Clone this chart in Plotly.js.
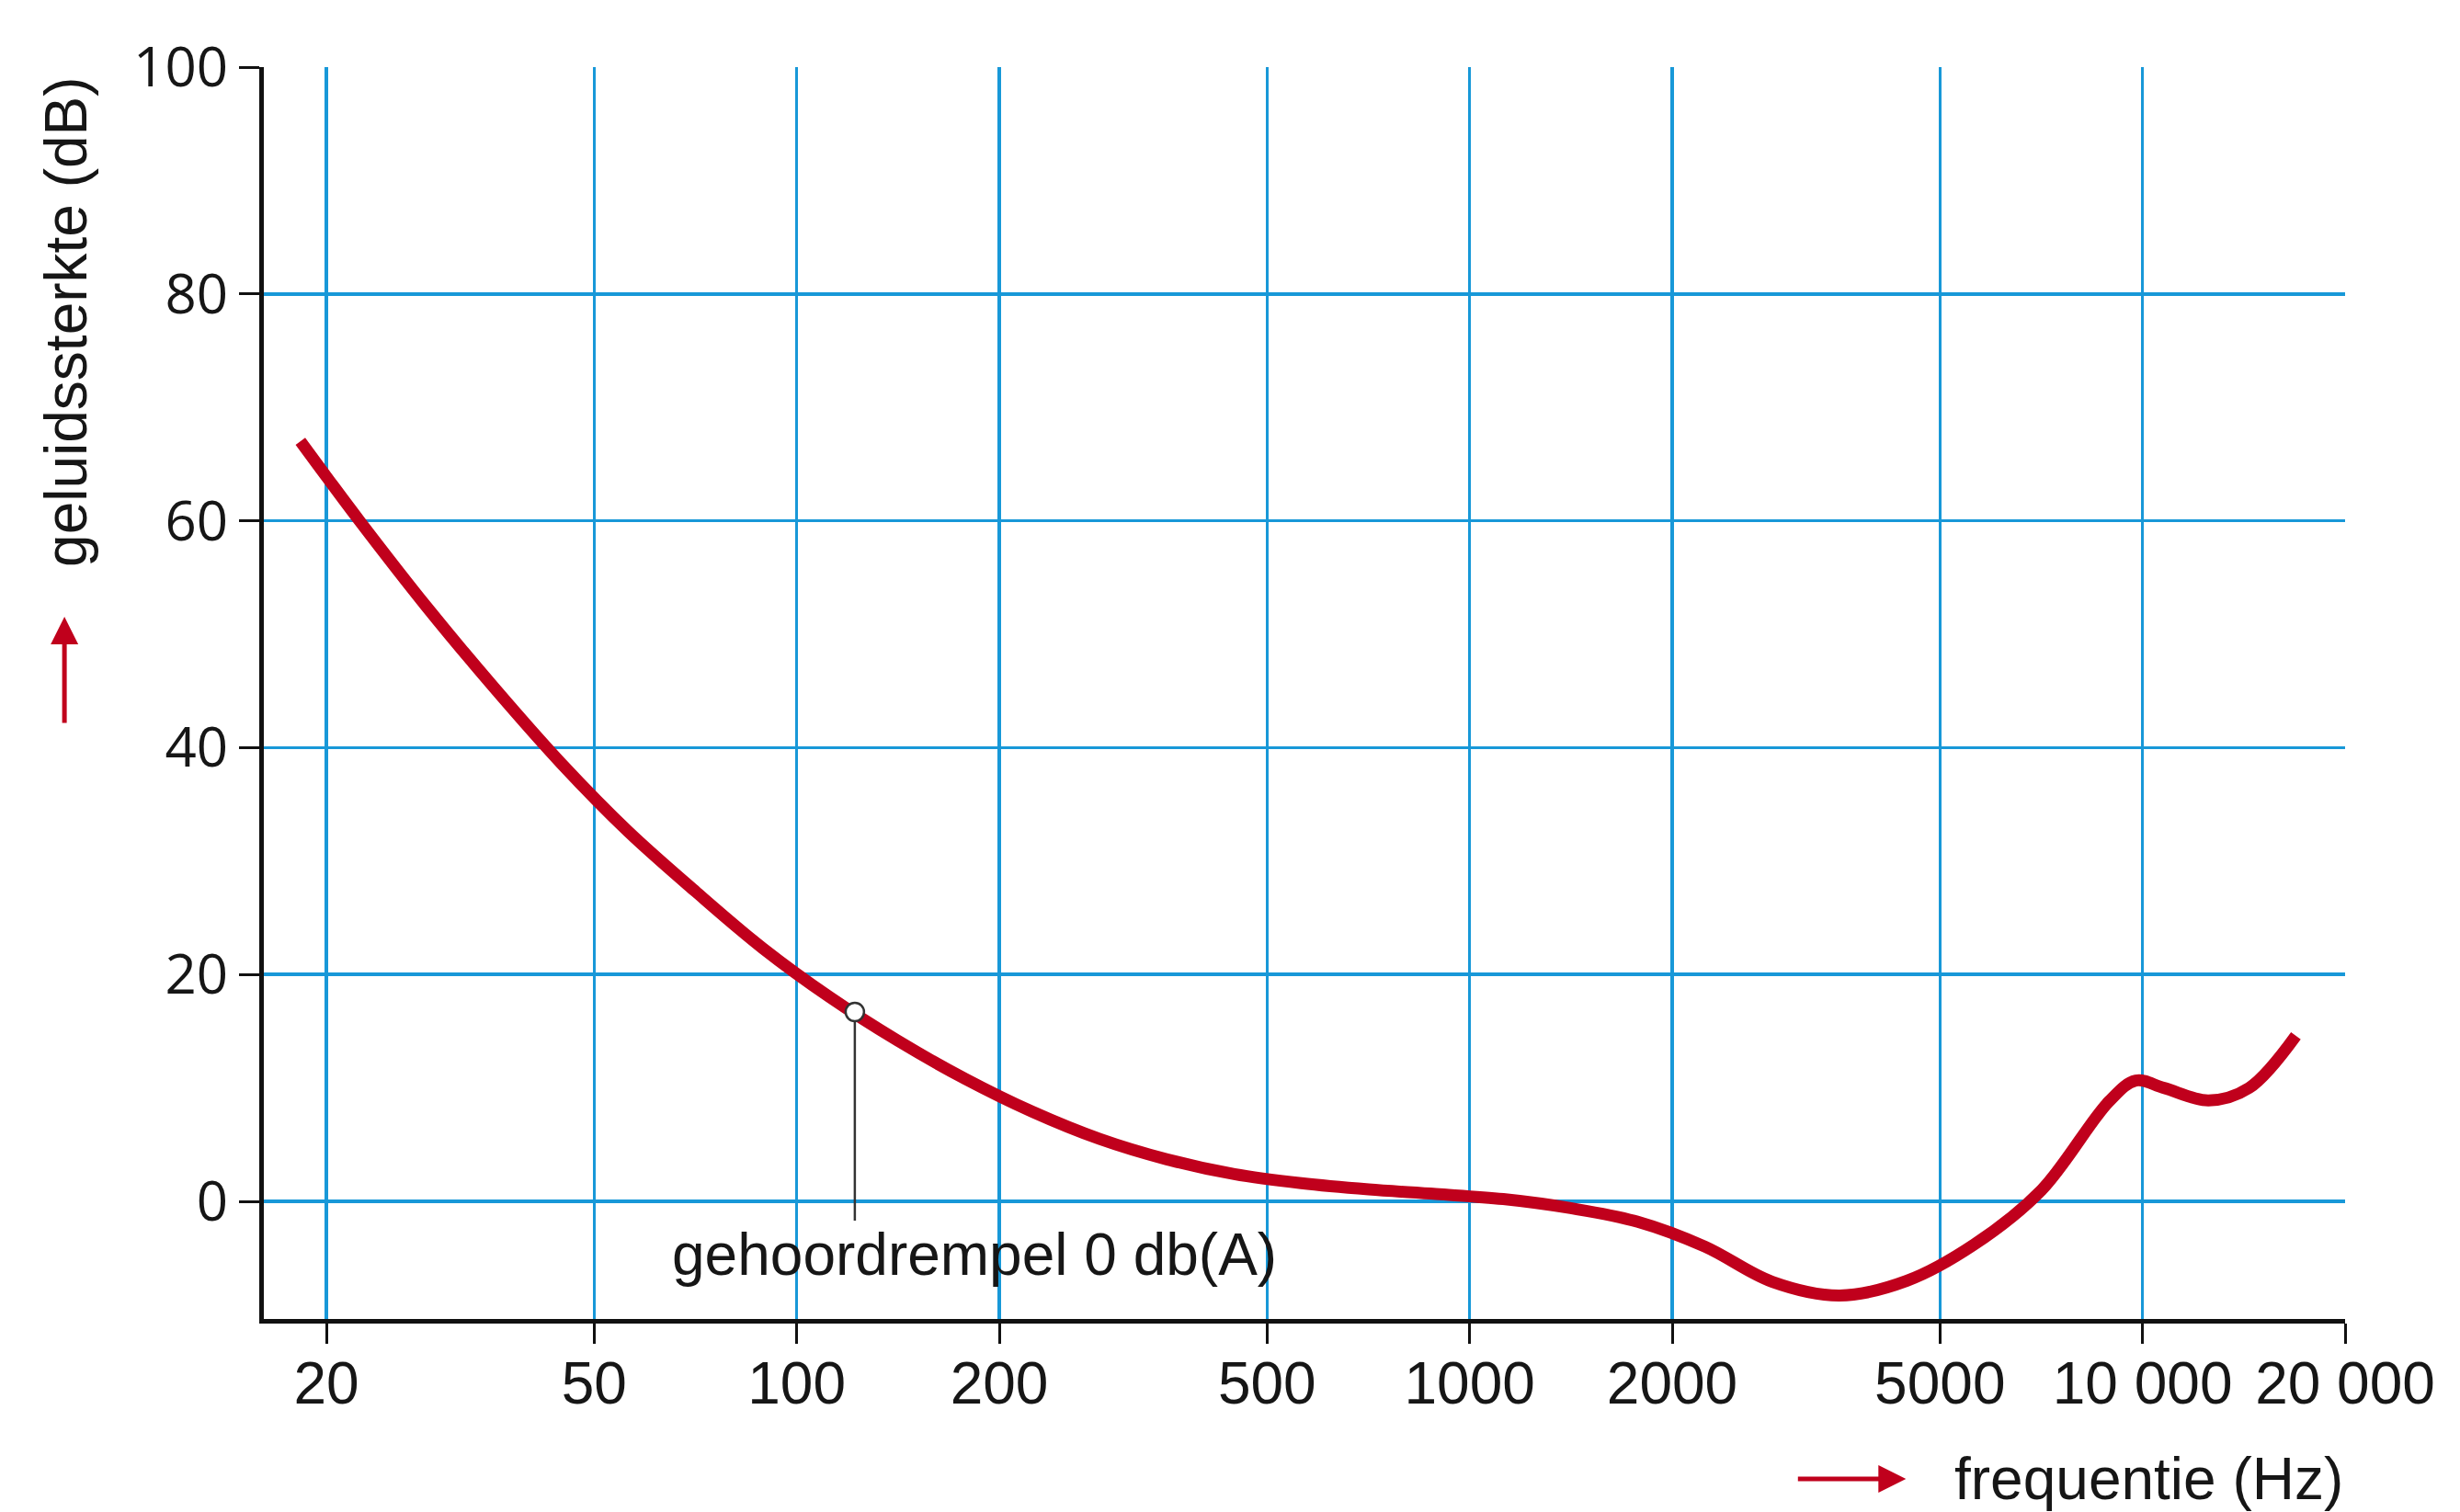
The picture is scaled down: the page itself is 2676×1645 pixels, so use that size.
<!DOCTYPE html>
<html>
<head>
<meta charset="utf-8">
<script src="https://cdn.plot.ly/plotly-3.0.1.min.js"></script>
<style>html,body{margin:0;padding:0;background:#fff;}#chart{width:2676px;height:1645px;}</style>
</head>
<body>
<div id="chart"></div>
<script>
// Hearing threshold curve (frequency in Hz, level in dB)
const freqHz = [18.3, 20, 22.4, 28.2, 35.5, 44.7, 56.2, 70.8, 89.1, 112, 141, 178, 224, 282, 355, 447, 562, 708, 891, 1122, 1413, 1778, 2239, 2818, 3548, 4467, 5623, 7079, 8913, 9772, 10760, 12530, 14400, 16900];
const levelDb = [67.0, 63.9, 60.0, 52.4, 45.3, 38.6, 32.6, 27.3, 22.3, 18.0, 14.2, 10.8, 7.9, 5.5, 3.7, 2.4, 1.6, 1.05, 0.65, 0.2, -0.6, -1.8, -4.0, -7.1, -8.3, -7.0, -3.8, 1.0, 8.8, 10.65, 10.0, 8.9, 10.0, 14.6];

// Marked point on the curve with its leader line
const markFreq = [122, 122];
const markDb = [16.7, -1.7];

// Axis ticks
const xTickVals = [20, 50, 100, 200, 500, 1000, 2000, 5000, 10000, 20000];
const xTickText = ["20", "50", "100", "200", "500", "1000", "2000", "5000", "10 000", "20 000"];
const yTickVals = [0, 20, 40, 60, 80, 100];
const yTickText = ["0", "20", "40", "60", "80", "100"];

const annotationText = "gehoordrempel 0 db(A)";
const xTitle = "frequentie (Hz)";
const yTitle = "geluidssterkte (dB)";

const red = "#c0001c";
const blue = "#1898d8";
const ink = "#161616";
const condensed = "Liberation Sans, Arial, sans-serif";

const traces = [
  {
    x: [markFreq[0], markFreq[1]], y: [markDb[0], markDb[1]],
    mode: "lines", line: {color: "#333", width: 2.5},
    hoverinfo: "skip", showlegend: false
  },
  {
    x: freqHz, y: levelDb, mode: "lines",
    line: {color: red, width: 13, shape: "spline", smoothing: 1},
    showlegend: false
  },
  {
    x: [markFreq[0]], y: [markDb[0]], mode: "markers",
    marker: {size: 20, color: "#ffffff", line: {color: "#333", width: 2.5}},
    showlegend: false
  }
];

const layout = {
  width: 2676, height: 1645,
  margin: {l: 287, r: 125, t: 73, b: 210, pad: 0},
  paper_bgcolor: "#ffffff", plot_bgcolor: "#ffffff",
  showlegend: false,
  xaxis: {
    type: "log",
    range: [1.2081, 4.30103],
    tickmode: "array", tickvals: xTickVals, ticktext: xTickText,
    showgrid: true, gridcolor: blue, gridwidth: 3.5,
    zeroline: false,
    showline: true, linecolor: "#111", linewidth: 5,
    ticks: "outside", ticklen: 22, tickwidth: 3, tickcolor: "#111",
    tickfont: {family: condensed, size: 64, color: ink},
    ticklabelstandoff: -12
  },
  yaxis: {
    range: [-10.37, 100],
    tickmode: "array", tickvals: yTickVals, ticktext: yTickText,
    showgrid: true, gridcolor: blue, gridwidth: 3.5,
    zeroline: false,
    showline: true, linecolor: "#111", linewidth: 5,
    ticks: "outside", ticklen: 22, tickwidth: 3, tickcolor: "#111",
    tickfont: {family: "Open Sans, sans-serif", size: 60, color: ink},
    ticklabelstandoff: 0
  },
  annotations: [
    {
      xref: "paper", yref: "paper", x: 0.1952, y: 0.0514,
      xanchor: "left", yanchor: "middle", showarrow: false,
      text: annotationText,
      font: {family: condensed, size: 64, color: ink}
    },
    {
      xref: "paper", yref: "paper", x: 1.0, y: -0.1278,
      xanchor: "right", yanchor: "middle", showarrow: false,
      text: xTitle,
      font: {family: condensed, size: 64, color: ink}
    },
    {
      xref: "paper", yref: "paper", x: -0.0950, y: 0.7966,
      xanchor: "center", yanchor: "middle", showarrow: false,
      textangle: -90,
      text: yTitle,
      font: {family: condensed, size: 64, color: ink}
    },
    {
      xref: "paper", yref: "paper", x: 0.789, y: -0.1278,
      ax: -119, ay: 0, text: "", showarrow: true,
      arrowhead: 2, arrowsize: 1.2, arrowwidth: 5, arrowcolor: red, standoff: 0
    },
    {
      xref: "paper", yref: "paper", x: -0.0958, y: 0.561,
      ax: 0, ay: 117, text: "", showarrow: true,
      arrowhead: 2, arrowsize: 1.2, arrowwidth: 5, arrowcolor: red, standoff: 0
    }
  ]
};

Plotly.newPlot("chart", traces, layout, {displayModeBar: false, staticPlot: true});
</script>
</body>
</html>
